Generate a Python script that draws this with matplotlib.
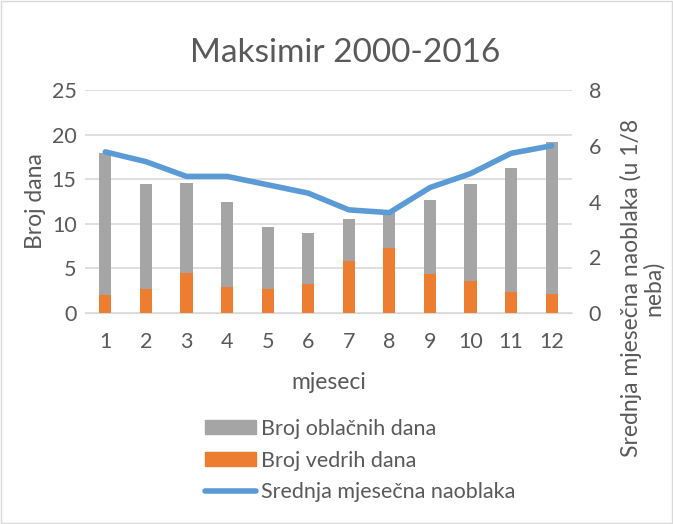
import matplotlib.pyplot as plt
import numpy as np
from matplotlib.patches import Rectangle

plt.rcParams['font.family'] = ['Lato', 'DejaVu Sans']

mjeseci = [1, 2, 3, 4, 5, 6, 7, 8, 9, 10, 11, 12]
# broj vedrih dana (narancasto) i ukupna visina stupca
vedri = [2.0, 2.7, 4.45, 2.95, 2.65, 3.3, 5.85, 7.3, 4.4, 3.55, 2.35, 2.1]
ukupno = [17.9, 14.5, 14.6, 12.4, 9.6, 8.95, 10.5, 11.4, 12.65, 14.5, 16.3, 19.2]
oblacni = [u - v for u, v in zip(ukupno, vedri)]
naoblaka = [5.78, 5.43, 4.9, 4.9, 4.6, 4.3, 3.7, 3.6, 4.5, 5.0, 5.73, 6.0]

siva = '#a5a5a5'
narancasta = '#ed7d31'
plava = '#5b9bd5'
tekst = '#595959'

fig = plt.figure(figsize=(6.73, 5.24), dpi=100)
ax = fig.add_axes([85/673, 1-313/524, 487/673, 223/524])
ax2 = ax.twinx()

x = np.arange(len(mjeseci))
ax.bar(x, vedri, width=0.3, color=narancasta, zorder=2)
ax.bar(x, oblacni, bottom=vedri, width=0.3, color=siva, zorder=2)
ax2.plot(x, naoblaka, color=plava, lw=4, solid_capstyle='round', zorder=3)

ax.set_ylim(0, 25)
ax.set_yticks(range(0, 26, 5))
ax2.set_ylim(0, 8)
ax2.set_yticks(range(0, 9, 2))
ax.set_xlim(-0.5, 11.5)
ax.set_xticks(x)
ax.set_xticklabels(mjeseci)
ax.yaxis.grid(True, color='#d9d9d9', lw=1.2, zorder=0)
ax.set_axisbelow(True)

for a in (ax, ax2):
    for s in a.spines.values():
        s.set_visible(False)
    a.tick_params(length=0, labelsize=15.5, colors=tekst, pad=6)
ax.tick_params(axis='x', pad=14)
ax2.tick_params(axis='y', pad=12)
ax.spines['bottom'].set_visible(True)
ax.spines['bottom'].set_color('#d9d9d9')

ax.set_ylabel('Broj dana', fontsize=16.5, color=tekst, labelpad=4)
ax.set_xlabel('mjeseci', fontsize=16.5, color=tekst, labelpad=14)
fig.text(642/673, 1-288/524, 'Srednja mjesečna naoblaka (u 1/8\nneba)', rotation=90,
         ha='center', va='center', multialignment='center', fontsize=16.5,
         color=tekst, linespacing=1.0)

fig.text(345/673, 1-53/524, 'Maksimir 2000-2016', ha='center', va='center',
         fontsize=24, color=tekst)

h1 = Rectangle((0, 0), 1, 1, color=siva)
h2 = Rectangle((0, 0), 1, 1, color=narancasta)
h3 = plt.Line2D([0], [0], color=plava, lw=4, solid_capstyle='round')
fig.legend([h1, h2, h3], ['Broj oblačnih dana', 'Broj vedrih dana', 'Srednja mjesečna naoblaka'],
           loc='upper left', bbox_to_anchor=(194/673, 1-408/524), frameon=False,
           fontsize=15.5, labelcolor=tekst, handlelength=2.4, handleheight=0.6,
           handletextpad=0.2, labelspacing=0.55, borderpad=0)

fig.patches.append(Rectangle((0.002, 0.002), 0.996, 0.996, transform=fig.transFigure,
                             fill=False, edgecolor='#d9d9d9', lw=1))

plt.savefig('out.png')
